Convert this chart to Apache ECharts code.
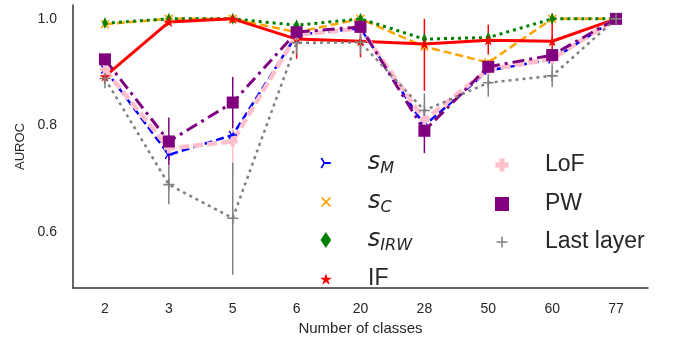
<!DOCTYPE html>
<html><head><meta charset="utf-8">
<script src="https://cdn.jsdelivr.net/npm/echarts@6/dist/echarts.min.js"></script>
<style>html,body{margin:0;padding:0;background:#fff}#c{width:680px;height:341px}</style>
</head><body><div id="c"></div>
<script>
const categories = ['2','3','5','6','20','28','50','60','77'];
const yTicks = [0.6, 0.8, 1.0];
const sM      = [0.905, 0.745, 0.782, 0.970, 0.982, 0.800, 0.903, 0.924, 1.0];
const sM_lo   = [0.895, 0.735, 0.772, 0.965, 0.977, 0.790, 0.895, 0.916, 1.0];
const sM_hi   = [0.915, 0.755, 0.792, 0.975, 0.987, 0.810, 0.911, 0.932, 1.0];
const sC      = [0.990, 1.000, 1.000, 0.975, 1.000, 0.948, 0.918, 1.000, 1.0];
const sC_lo   = [0.987, 0.998, 0.998, 0.970, 0.998, 0.940, 0.912, 0.998, 1.0];
const sC_hi   = [0.993, 1.002, 1.002, 0.980, 1.002, 0.956, 0.924, 1.002, 1.0];
const sIRW    = [0.992, 1.000, 1.000, 0.988, 1.000, 0.962, 0.965, 1.000, 1.0];
const sIRW_lo = [0.989, 0.998, 0.998, 0.984, 0.998, 0.956, 0.959, 0.998, 1.0];
const sIRW_hi = [0.995, 1.002, 1.002, 0.992, 1.002, 0.968, 0.971, 1.002, 1.0];
const IF      = [0.892, 0.994, 1.000, 0.962, 0.958, 0.953, 0.960, 0.958, 1.0];
const IF_lo   = [0.880, 0.990, 0.998, 0.925, 0.928, 0.865, 0.933, 0.935, 1.0];
const IF_hi   = [0.904, 0.998, 1.002, 0.985, 0.985, 1.000, 0.989, 1.010, 1.0];
const LoF     = [0.905, 0.757, 0.770, 0.970, 0.982, 0.810, 0.905, 0.925, 1.0];
const LoF_lo  = [0.895, 0.747, 0.706, 0.965, 0.977, 0.800, 0.897, 0.917, 1.0];
const LoF_hi  = [0.915, 0.767, 0.810, 0.975, 0.987, 0.820, 0.913, 0.933, 1.0];
const PW      = [0.924, 0.770, 0.843, 0.975, 0.985, 0.790, 0.910, 0.932, 1.0];
const PW_lo   = [0.914, 0.725, 0.795, 0.967, 0.979, 0.748, 0.902, 0.924, 1.0];
const PW_hi   = [0.934, 0.815, 0.891, 0.983, 0.991, 0.830, 0.918, 0.940, 1.0];
const LL      = [0.888, 0.689, 0.626, 0.955, 0.956, 0.828, 0.880, 0.893, 1.0];
const LL_lo   = [0.870, 0.652, 0.520, 0.933, 0.933, 0.800, 0.854, 0.872, 1.0];
const LL_hi   = [0.903, 0.724, 0.730, 0.975, 0.980, 0.860, 0.910, 0.915, 1.0];

const SYM = {
  tri: 'path://M5,4.2L10,4.2L10,5.8L5,5.8L2.9,9.5L1.6,8.7L4,5L1.6,1.3L2.9,0.5Z',
  x: 'path://M0,1.2L1.2,0L5,3.8L8.8,0L10,1.2L6.2,5L10,8.8L8.8,10L5,6.2L1.2,10L0,8.8L3.8,5Z',
  diamond: 'path://M4,0L8,6L4,12L0,6Z',
  star: 'path://M50,0L61.2,34.6L97.6,34.5L68.1,55.9L79.4,90.5L50,69L20.6,90.5L31.9,55.9L2.4,34.5L38.8,34.6Z',
  P: 'path://M3,0h4v3h3v4h-3v3h-4v-3h-3v-4h3z',
  sq: 'path://M0,0h10v10h-10z',
  plus: 'path://M4.3,0h1.4v4.3h4.3v1.4h-4.3v4.3h-1.4v-4.3h-4.3v-1.4h4.3z'
};

const defs = [
  {name:'sM', label:'{s|s}{sub|M}', vals:sM, lo:sM_lo, hi:sM_hi, color:'#0000ff', sym:SYM.tri, size:9, lw:2.5, type:[8,4], leg:{w:11,h:11,col:0,row:0,rich:true}},
  {name:'sC', label:'{s|s}{sub|C}', vals:sC, lo:sC_lo, hi:sC_hi, color:'#ffa500', sym:SYM.x, size:9, lw:2.5, type:[8,4], leg:{w:10,h:10,col:0,row:1,rich:true}},
  {name:'sIRW', label:'{s|s}{sub|IRW}', vals:sIRW, lo:sIRW_lo, hi:sIRW_hi, color:'#008000', sym:SYM.diamond, size:[8,12], lw:3, type:[3,4], leg:{w:11,h:16,col:0,row:2,rich:true}},
  {name:'IF', label:'IF', vals:IF, lo:IF_lo, hi:IF_hi, color:'#ff0000', sym:SYM.star, size:11, lw:3, type:'solid', leg:{w:12,h:12,col:0,row:3,rich:false}},
  {name:'LoF', label:'LoF', vals:LoF, lo:LoF_lo, hi:LoF_hi, color:'#ffc0cb', sym:SYM.P, size:10, lw:4.5, type:[10,4], leg:{w:13,h:13,col:1,row:0,rich:false}},
  {name:'PW', label:'PW', vals:PW, lo:PW_lo, hi:PW_hi, color:'#800080', sym:SYM.sq, size:12, lw:3, type:[12,5,3,5], leg:{w:14,h:14,col:1,row:1,rich:false}},
  {name:'Last layer', label:'Last layer', vals:LL, lo:LL_lo, hi:LL_hi, color:'#808080', sym:SYM.plus, size:11, lw:2.5, type:[3,4], leg:{w:11,h:11,col:1,row:2,rich:false}}
];

const series = [];
defs.forEach(d => {
  series.push({
    name:d.name, type:'line', data:d.vals, symbol:d.sym, symbolSize:d.size,
    showAllSymbol:true, symbolKeepAspect:true,
    itemStyle:{color:d.color, borderWidth:0},
    lineStyle:{color:d.color, width:d.lw, type:d.type},
    emphasis:{disabled:true}
  });
  series.push({
    name:d.name+' err', type:'custom',
    data:d.vals.map((v,i)=>[i, d.lo[i], d.hi[i]]),
    encode:{x:0, y:[1,2]},
    renderItem:(params, api) => {
      const a = api.coord([api.value(0), api.value(1)]);
      const b = api.coord([api.value(0), api.value(2)]);
      return {type:'line', shape:{x1:a[0], y1:a[1], x2:b[0], y2:b[1]},
              style:{stroke:d.color, lineWidth:1.5}};
    }
  });
});

const rich = {
  s: {fontFamily:'DejaVu Sans', fontStyle:'italic', fontSize:24, color:'#262626'},
  sub: {fontFamily:'DejaVu Sans', fontStyle:'italic', fontSize:16, color:'#262626', padding:[12,0,0,0]}
};
// legend layout: column icon centres, text start, row centres
const colIconX = [321, 497];
const colTextX = [363, 540];
const rowY = [160, 199, 237, 274];
const legends = defs.map(d => {
  const L = d.leg;
  const h = L.rich ? 28 : 24;
  const left = colIconX[L.col] - L.w / 2;
  const pad = colTextX[L.col] - (left + L.w + 5);
  return {
    orient:'vertical', left:left, top:rowY[L.row] - h / 2,
    itemWidth:L.w, itemHeight:L.h, selectedMode:false,
    data:[{name:d.name, icon:d.sym}],
    formatter:() => d.label,
    lineStyle:{width:0, opacity:0},
    itemStyle:{borderWidth:0},
    textStyle:{fontFamily:'Liberation Sans', fontSize:23, color:'#262626', lineHeight:24,
               padding:[0,0,0,pad], rich:rich}
  };
});

const chart = echarts.init(document.getElementById('c'), null, {renderer:'canvas'});
chart.setOption({
  animation:false,
  backgroundColor:'#fff',
  grid:{left:73, right:32, top:5, bottom:50, containLabel:false},
  legend:legends,
  xAxis:{
    type:'category', data:categories, boundaryGap:true,
    name:'Number of classes', nameLocation:'middle', nameGap:33,
    nameTextStyle:{fontFamily:'Liberation Sans', fontSize:15, color:'#262626'},
    axisLine:{lineStyle:{color:'#333', width:1.5}}, axisTick:{show:false},
    axisLabel:{fontFamily:'Liberation Sans', fontSize:14, color:'#262626', margin:14},
    splitLine:{show:false}
  },
  yAxis:{
    type:'value', min:0.495, max:1.026,
    name:'AUROC', nameLocation:'middle', nameGap:40,
    nameTextStyle:{fontFamily:'Liberation Sans', fontSize:13, color:'#262626'},
    axisLine:{show:true, lineStyle:{color:'#333', width:1.5}}, axisTick:{show:false},
    axisLabel:{fontFamily:'Liberation Sans', fontSize:14, color:'#262626', margin:16,
               customValues:yTicks, formatter:v => v.toFixed(1)},
    splitLine:{show:false}
  },
  series:series
});
</script></body></html>
